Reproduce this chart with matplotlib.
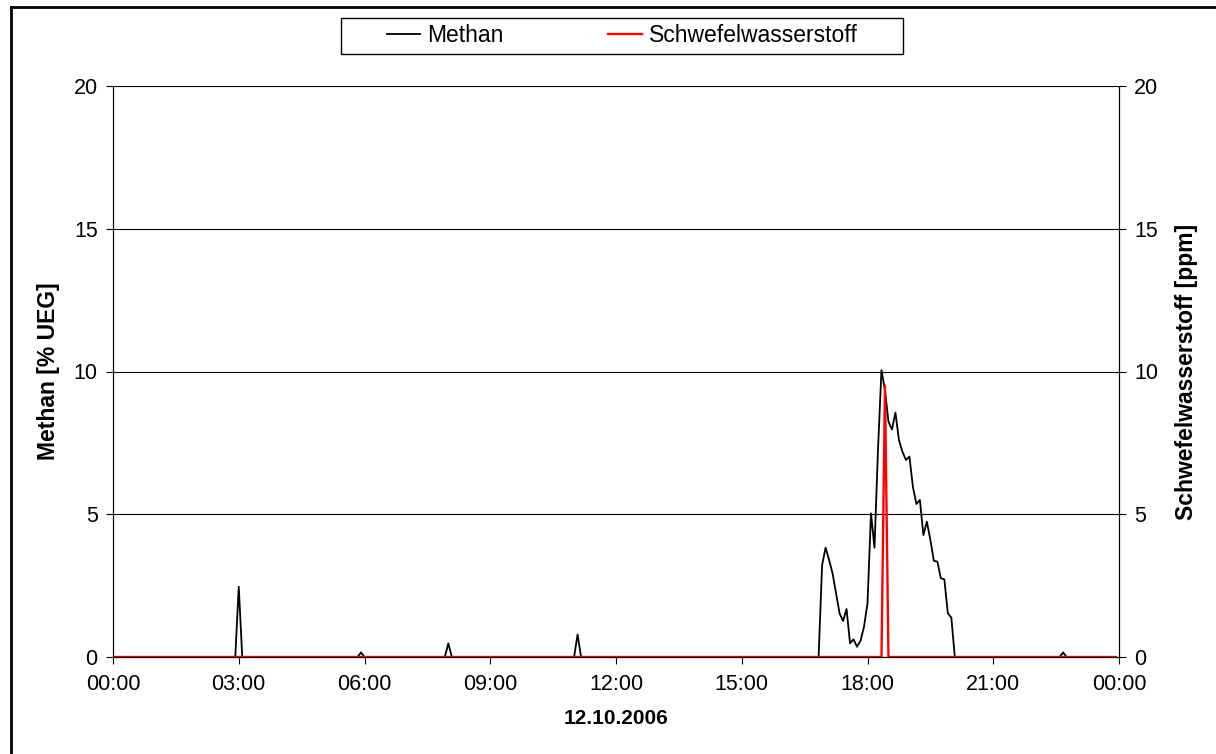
import matplotlib
matplotlib.use("Agg")
import matplotlib.pyplot as plt
import matplotlib.dates as mdates
from matplotlib.lines import Line2D
from matplotlib.patches import Rectangle
import pandas as pd

plt.rcParams["font.family"] = ["Liberation Sans", "DejaVu Sans"]

DAY = "2006-10-12 "

# Methan [% UEG], 5-Minuten-Werte (nur Stellen ungleich 0 plus Randpunkte)
methan_times = ["00:00", "02:55", "03:00", "03:05", "05:50", "05:55", "06:00",
                "07:55", "08:00", "08:05", "11:00", "11:05", "11:10",
                "16:50", "16:55", "17:00", "17:05", "17:10", "17:15", "17:20",
                "17:25", "17:30", "17:35", "17:40", "17:45", "17:50", "17:55",
                "18:00", "18:05", "18:10", "18:15", "18:20", "18:25", "18:30",
                "18:35", "18:40", "18:45", "18:50", "18:55", "19:00", "19:05",
                "19:10", "19:15", "19:20", "19:25", "19:30", "19:35", "19:40",
                "19:45", "19:50", "19:55", "20:00", "20:05",
                "22:35", "22:40", "22:45", "23:55"]
methan_values = [0, 0, 2.46, 0, 0, 0.16, 0,
                 0, 0.48, 0, 0, 0.79, 0,
                 0, 3.22, 3.83, 3.4, 2.93, 2.23, 1.53,
                 1.26, 1.68, 0.48, 0.62, 0.36, 0.57, 1.06,
                 1.88, 5.03, 3.83, 7.25, 10.05, 9.35, 8.24,
                 7.97, 8.56, 7.60, 7.19, 6.90, 7.02, 5.96,
                 5.36, 5.50, 4.27, 4.74, 4.10, 3.37, 3.34,
                 2.76, 2.72, 1.53, 1.38, 0,
                 0, 0.16, 0, 0]

# Schwefelwasserstoff [ppm]
h2s_times = ["00:00", "18:20", "18:25", "18:30", "23:55"]
h2s_values = [0, 0, 9.5, 0, 0]

methan_x = pd.to_datetime([DAY + t for t in methan_times])
h2s_x = pd.to_datetime([DAY + t for t in h2s_times])

W, H = 1216, 754
fig = plt.figure(figsize=(W / 100, H / 100), dpi=100)
ax = fig.add_axes([113 / W, 1 - 657 / H, 1006 / W, 571 / H])
ax2 = ax.twinx()

l1, = ax.plot(methan_x, methan_values, color="black", lw=1.3, label="Methan")
l2, = ax.plot(h2s_x, h2s_values, color="#ff0000", lw=1.7,
              label="Schwefelwasserstoff")

for a in (ax, ax2):
    a.set_ylim(0, 20)
    a.set_yticks([0, 5, 10, 15, 20])
    a.spines["top"].set_visible(False)
    a.tick_params(labelsize=15.5, length=5, direction="out")
ax.set_xlim(pd.Timestamp(DAY + "00:00"), pd.Timestamp("2006-10-13 00:00"))
ax.xaxis.set_major_locator(mdates.HourLocator(interval=3))
ax.xaxis.set_major_formatter(mdates.DateFormatter("%H:%M"))
ax.tick_params(axis="x", pad=7)
ax.tick_params(axis="y", pad=6)
ax2.tick_params(axis="y", pad=6)
ax.yaxis.grid(True, color="black", lw=0.8)
ax.set_axisbelow(True)

ax.set_ylabel("Methan [% UEG]", fontsize=16.5, fontweight="bold", labelpad=10)
ax2.set_ylabel("Schwefelwasserstoff [ppm]", fontsize=16.5, fontweight="bold",
               labelpad=12)
ax.set_xlabel("12.10.2006", fontsize=15, fontweight="bold", labelpad=10)

# Legendenrahmen
fig.add_artist(Rectangle((341 / W, 1 - 54 / H), 562 / W, 36 / H,
                         transform=fig.transFigure, facecolor="white",
                         edgecolor="black", lw=1.0))
fig.legend(handles=[l1, l2], loc="center", ncol=2,
           bbox_to_anchor=(622 / W, 1 - 36 / H), fontsize=16.5,
           frameon=False, handlelength=1.45, handletextpad=0.3,
           columnspacing=4.6, borderpad=0.2)

# Rahmen links und oben
fig.add_artist(Line2D([11 / W, 11 / W], [0, 1 - 7 / H], color="black", lw=2,
                      transform=fig.transFigure))
fig.add_artist(Line2D([11 / W, 1], [1 - 7 / H, 1 - 7 / H], color="black",
                      lw=2, transform=fig.transFigure))

fig.savefig("out.png", dpi=100)
